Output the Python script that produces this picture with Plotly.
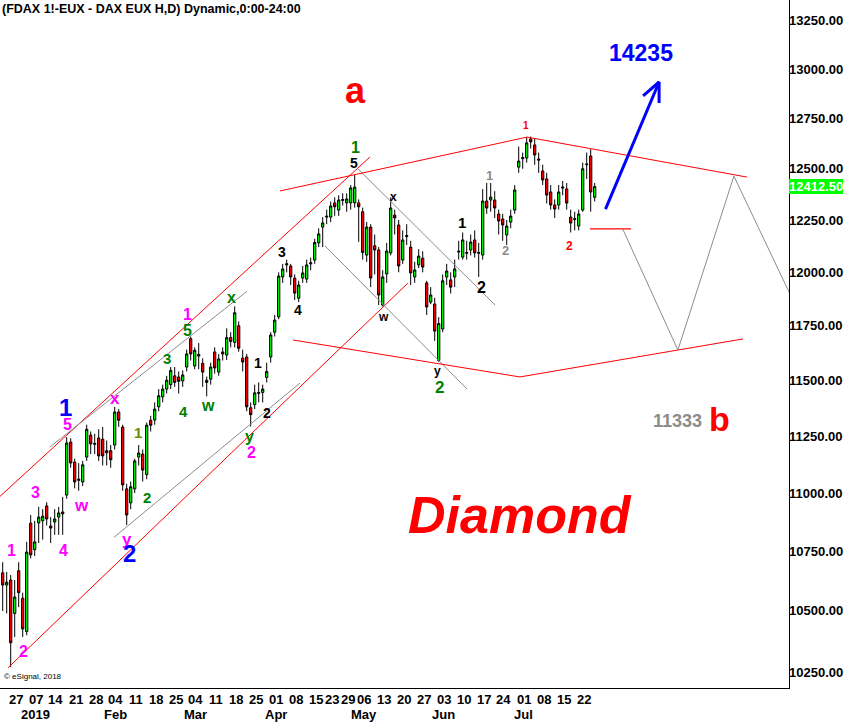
import math
import pandas as pd
import plotly.graph_objects as go

FONT = "Liberation Sans, Arial, sans-serif"

# ---------------- trading calendar (FDAX daily bars) ----------------
HOLIDAYS = ["2018-12-24", "2018-12-25", "2018-12-26", "2018-12-31", "2019-01-01",
            "2019-04-19", "2019-04-22", "2019-05-01"]
trading_days = [d.strftime("%Y-%m-%d") for d in pd.bdate_range("2018-12-20", "2019-07-26")
                if d.strftime("%Y-%m-%d") not in HOLIDAYS]

# ---------------- OHLC values ----------------
opens = [10659, 10608, 10629, 10490, 10668, 10553, 10415, 10870, 10757, 10871,
         10880, 10944, 10858, 10875, 10896, 10918, 10991, 11223, 11135, 11055,
         11048, 11157, 11254, 11213, 11241, 11236, 11185, 11185, 11210, 11357,
         11290, 11018, 10957, 11018, 11157, 11170, 11080, 11320, 11321, 11380,
         11425, 11460, 11480, 11520, 11515, 11497, 11560, 11690, 11565, 11610,
         11577, 11500, 11505, 11629, 11537, 11629, 11615, 11695, 11673, 11750,
         11601, 11606, 11376, 11390, 11440, 11445, 11513, 11606, 11720, 11791,
         11978, 12035, 12030, 11973, 11878, 11973, 11968, 12040, 12058, 12140,
         12216, 12264, 12264, 12333, 12298, 12345, 12333, 12333, 12333, 12333,
         12290, 12082, 12216, 12126, 12106, 11846, 11992, 12092, 12274, 12226,
         12058, 12170, 12120, 11978, 12035, 12067, 11950, 11860, 11851, 11590,
         11735, 11978, 11964, 11978, 12096, 12072, 12090, 12106, 12154, 12090,
         12082, 12342, 12347, 12347, 12279, 12255, 12178, 12240, 12298, 12508,
         12550, 12553, 12648, 12618, 12548, 12489, 12450, 12386, 12323, 12323,
         12405, 12401, 12264, 12252, 12221, 12298, 12520, 12563, 12360]
highs = [10704, 10663, 10650, 10629, 10704, 10576, 10790, 10905, 10880, 10940,
         10930, 10960, 10896, 10930, 10940, 10983, 11245, 11240, 11150, 11130,
         11140, 11300, 11270, 11260, 11280, 11290, 11230, 11210, 11380, 11370,
         11300, 11040, 11050, 11150, 11210, 11190, 11310, 11340, 11400, 11460,
         11480, 11520, 11560, 11560, 11540, 11545, 11640, 11700, 11650, 11670,
         11600, 11517, 11580, 11650, 11620, 11650, 11738, 11720, 11840, 11770,
         11640, 11620, 11400, 11480, 11490, 11480, 11580, 11720, 11800, 12000,
         12040, 12060, 12040, 11990, 11960, 12030, 12060, 12070, 12160, 12210,
         12264, 12300, 12340, 12360, 12370, 12380, 12380, 12420, 12469, 12350,
         12310, 12240, 12230, 12180, 12120, 12010, 12140, 12360, 12300, 12250,
         12200, 12230, 12150, 12050, 12110, 12100, 11960, 11930, 11880, 11790,
         11990, 12040, 12000, 12060, 12150, 12190, 12150, 12180, 12200, 12140,
         12400, 12430, 12430, 12390, 12300, 12280, 12250, 12300, 12420, 12610,
         12580, 12658, 12660, 12650, 12580, 12520, 12480, 12420, 12350, 12420,
         12440, 12430, 12300, 12290, 12300, 12530, 12580, 12597, 12430]
lows = [10500, 10490, 10270, 10393, 10516, 10393, 10400, 10720, 10730, 10785,
        10800, 10860, 10785, 10820, 10820, 10820, 10975, 11110, 11020, 11010,
        11030, 11140, 11170, 11170, 11140, 11120, 11120, 11110, 11190, 11290,
        11010, 10862, 10930, 11000, 11120, 11050, 11060, 11270, 11300, 11360,
        11400, 11440, 11460, 11470, 11440, 11470, 11540, 11590, 11550, 11550,
        11470, 11427, 11480, 11530, 11520, 11590, 11592, 11650, 11650, 11630,
        11540, 11360, 11292, 11370, 11400, 11400, 11490, 11580, 11700, 11780,
        11950, 12000, 11940, 11870, 11860, 11950, 11950, 12010, 12040, 12120,
        12120, 12230, 12240, 12270, 12270, 12320, 12290, 12300, 12310, 12145,
        12060, 12050, 11930, 11990, 11846, 11840, 11950, 12080, 12180, 12000,
        12040, 12130, 11940, 11950, 12020, 12000, 11800, 11850, 11680, 11584,
        11720, 11940, 11900, 11930, 12060, 12060, 12060, 12080, 12070, 11978,
        12060, 12280, 12290, 12260, 12180, 12150, 12130, 12210, 12280, 12480,
        12500, 12530, 12600, 12520, 12480, 12420, 12330, 12300, 12260, 12300,
        12370, 12300, 12190, 12200, 12200, 12290, 12450, 12290, 12340]
closes = [10608, 10620, 10369, 10558, 10576, 10426, 10747, 10735, 10790, 10896,
          10900, 10888, 10849, 10888, 10914, 10910, 11219, 11131, 11048, 11060,
          11123, 11280, 11215, 11217, 11162, 11162, 11176, 11145, 11357, 11320,
          11035, 10905, 11027, 11140, 11175, 11100, 11298, 11298, 11370, 11430,
          11460, 11500, 11545, 11490, 11495, 11524, 11620, 11620, 11637, 11618,
          11537, 11490, 11560, 11556, 11597, 11620, 11695, 11677, 11810, 11646,
          11583, 11380, 11345, 11443, 11445, 11460, 11540, 11707, 11776, 11982,
          12016, 12040, 11978, 11902, 11940, 11997, 12035, 12045, 12142, 12183,
          12236, 12268, 12318, 12314, 12347, 12349, 12352, 12406, 12410, 12314,
          12094, 12216, 11973, 12106, 11893, 11978, 12101, 12308, 12260, 12030,
          12154, 12175, 11997, 12011, 12077, 12025, 11837, 11893, 11725, 11760,
          11960, 12006, 11930, 12016, 12100, 12154, 12094, 12144, 12092, 12094,
          12342, 12308, 12361, 12308, 12245, 12226, 12221, 12269, 12396, 12538,
          12555, 12628, 12633, 12568, 12543, 12445, 12371, 12323, 12303, 12386,
          12410, 12332, 12235, 12256, 12279, 12500, 12523, 12386, 12412.5]

last_price = 12412.5

# ---------------- axis ticks ----------------
y_ticks = [10250, 10500, 10750, 11000, 11250, 11500, 11750, 12000, 12250, 12500, 12750, 13000, 13250]
tick_dates = ["2018-12-27", "2019-01-07", "2019-01-14", "2019-01-21", "2019-01-28", "2019-02-04",
              "2019-02-11", "2019-02-18", "2019-02-25", "2019-03-04", "2019-03-11", "2019-03-18",
              "2019-03-25", "2019-04-01", "2019-04-08", "2019-04-15", "2019-04-23", "2019-04-29",
              "2019-05-06", "2019-05-13", "2019-05-20", "2019-05-27", "2019-06-03", "2019-06-10",
              "2019-06-17", "2019-06-24", "2019-07-01", "2019-07-08", "2019-07-15", "2019-07-22"]
month_labels = {"2019-01-07": "2019", "2019-02-04": "Feb", "2019-03-04": "Mar", "2019-04-01": "Apr",
                "2019-05-06": "May", "2019-06-03": "Jun", "2019-07-01": "Jul"}

# ---------------- drawn trend lines (bar index, price) ----------------
segments = [
    # color, width, bar indices, prices
    ("#FF0000", 1, [-0.7, 91.8], [10985, 12558]),
    ("#FF0000", 1, [1.3, 101.3], [10267, 11949]),
    ("#8C8C8C", 1, [11.8, 61.1], [11201, 11911]),
    ("#8C8C8C", 1, [27.8, 74.3], [10809, 11487]),
    ("#8C8C8C", 1, [88.6, 123.1], [12504, 11846]),
    ("#8C8C8C", 1, [80.6, 116.1], [12125, 11460]),
    ("#FF0000", 1, [69.3, 131.1, 186.1], [12391, 12657, 12459]),
    ("#FF0000", 1, [72.6, 129.3, 185.1], [11684, 11515, 11689]),
    ("#FF0000", 1.2, [146.8, 157.1], [12207, 12207]),
    ("#8C8C8C", 1, [155.0, 168.8, 182.8, 199.3], [12207, 11638, 12464, 11800]),
    ("#0000FF", 3, [150.7, 164.1], [12303, 12935]),
    ("#0000FF", 3, [160.1, 164.1, 164.1], [12864, 12935, 12828]),
]

# ---------------- wave labels ----------------
PINK, BLUE, GREEN, OLIVE, BLACK, GRAY, RED = ("#FF00FF", "#0000FF", "#008000", "#6E8B00",
                                              "#000000", "#8C8C8C", "#FF0000")
lab_text = ["1", "2", "3", "4", "5", "w", "x", "y", "1", "2",
            "1", "2",
            "1", "2", "3", "4", "5", "w", "x", "y", "1", "2",
            "1", "2", "3", "4", "5", "x", "w", "y", "1", "2",
            "1", "2",
            "1", "2"]
lab_idx = [2.1, 5.1, 8.1, 15.1, 16.1, 19.8, 28.1, 31.1, 46.3, 62.3,
           15.6, 31.6,
           33.8, 36.1, 41.1, 45.1, 46.1, 51.3, 57.1, 61.8, 88.1, 109.1,
           63.8, 66.1, 69.8, 73.8, 87.8, 97.6, 95.1, 108.6, 114.8, 119.8,
           121.6, 125.8,
           130.8, 141.6]
lab_price = [10755, 10335, 11004, 10755, 11299, 10944, 11419, 10802, 11800, 11178,
             11375, 10742,
             11267, 10982, 11597, 11357, 11730, 11388, 11883, 11250, 12603, 11469,
             11578, 11352, 12096, 11823, 12528, 12362, 11790, 11542, 12240, 11926,
             12469, 12106,
             12713, 12125]
lab_color = [PINK] * 10 + [BLUE] * 2 + [OLIVE, GREEN, GREEN, GREEN, GREEN, GREEN, GREEN, GREEN, GREEN, GREEN] \
    + [BLACK] * 10 + [GRAY] * 2 + [RED] * 2
lab_size = [16, 16, 16, 16, 16, 17, 17, 17, 16, 16,
            24, 24,
            15, 15, 15, 15, 16, 16, 16, 16, 16, 17,
            14, 14, 14, 14, 14, 12, 12, 12, 15, 16,
            13, 13,
            10, 12]

big_text = ["a", "14235", "<i>Diamond</i>", "11333", "b"]
big_idx = [88.1, 159.6, 129.3, 168.6, 179.3]
big_price = [12894, 13085, 10905, 11316, 11325]
big_color = [RED, BLUE, RED, GRAY, RED]
big_size = [36, 23, 52, 18, 34]

# ---------------- figure ----------------
x_idx = list(range(len(trading_days)))
fig = go.Figure()
fig.add_trace(go.Candlestick(
    x=x_idx, open=opens, high=highs, low=lows, close=closes,
    increasing=dict(line=dict(color="black", width=1), fillcolor="#00FF00"),
    decreasing=dict(line=dict(color="black", width=1), fillcolor="#FF0000"),
    whiskerwidth=0, showlegend=False, hoverinfo="skip"))

for color, width, xs, ps in segments:
    fig.add_trace(go.Scatter(x=xs, y=ps, mode="lines", line=dict(color=color, width=width),
                             showlegend=False, hoverinfo="skip"))

annotations = []
for t, i, p, c, s in zip(lab_text, lab_idx, lab_price, lab_color, lab_size):
    annotations.append(dict(x=i, y=math.log10(p), xref="x", yref="y", text="<b>%s</b>" % t,
                            showarrow=False, font=dict(family=FONT, size=s, color=c)))
for t, i, p, c, s in zip(big_text, big_idx, big_price, big_color, big_size):
    annotations.append(dict(x=i, y=math.log10(p), xref="x", yref="y", text="<b>%s</b>" % t,
                            showarrow=False, font=dict(family=FONT, size=s, color=c)))

annotations.append(dict(x=0, y=1, xref="paper", yref="paper", xanchor="left", yanchor="top",
                        text="<b>(FDAX 1!-EUX - DAX EUX H,D) Dynamic,0:00-24:00</b>",
                        showarrow=False, font=dict(family=FONT, size=12.5, color="black")))
annotations.append(dict(x=0.002, y=0.016, xref="paper", yref="paper", xanchor="left", yanchor="middle",
                        text="© eSignal, 2018", showarrow=False,
                        font=dict(family=FONT, size=8, color="black")))

# price-axis labels (right side)
for v in y_ticks:
    annotations.append(dict(x=1, y=math.log10(v), xref="paper", yref="y", xanchor="left",
                            yanchor="middle", xshift=0, text="<b>%.2f</b>" % v, showarrow=False,
                            borderpad=0, borderwidth=0,
                            font=dict(family=FONT, size=13, color="black")))
annotations.append(dict(x=1, y=math.log10(last_price), xref="paper", yref="y", xanchor="left",
                        yanchor="middle", xshift=0, text="<b>%.2f</b>" % last_price, showarrow=False,
                        bgcolor="#00FF00", borderpad=0, borderwidth=0,
                        font=dict(family=FONT, size=13, color="white")))

# time-axis labels (two rows)
for d in tick_dates:
    xv = trading_days.index(d) + 1.2
    annotations.append(dict(x=xv, y=0, xref="x", yref="paper", xanchor="center", yanchor="top",
                            yshift=-2, text="<b>%s</b>" % d[-2:], showarrow=False,
                            font=dict(family=FONT, size=13, color="black")))
    if d in month_labels:
        annotations.append(dict(x=xv, y=0, xref="x", yref="paper", xanchor="center", yanchor="top",
                                yshift=-17, text="<b>%s</b>" % month_labels[d], showarrow=False,
                                font=dict(family=FONT, size=13, color="black")))

fig.update_layout(
    width=845, height=722,
    margin=dict(l=0, r=56, t=0, b=34, autoexpand=False),
    paper_bgcolor="white", plot_bgcolor="white",
    boxgap=0.2,
    annotations=annotations,
    showlegend=False,
    xaxis=dict(range=[-0.675, 196.575], showgrid=False, zeroline=False, showline=True,
               linecolor="black", linewidth=1, ticks="", showticklabels=False,
               rangeslider=dict(visible=False), fixedrange=True, automargin=False),
    yaxis=dict(type="log", range=[math.log10(10186), math.log10(13360)], side="right",
               showgrid=False, zeroline=False, showline=True, linecolor="black", linewidth=1,
               ticks="", showticklabels=False, fixedrange=True, automargin=False),
)

fig.write_html("out.html", config={"displayModeBar": False},
               post_script="document.body.style.margin='0px';document.body.style.overflow='hidden';")
